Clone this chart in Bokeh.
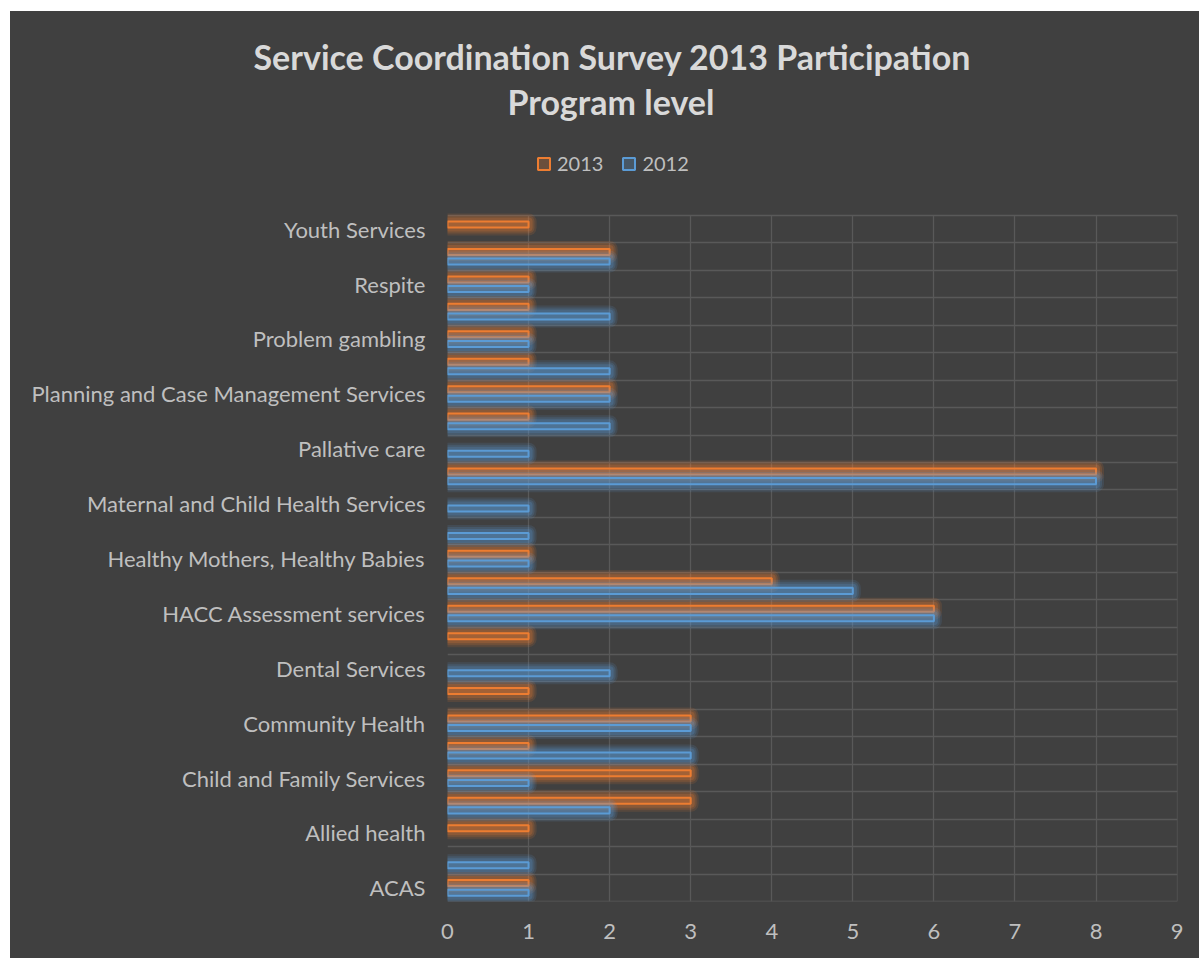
from bokeh.plotting import figure
from bokeh.models import (Range1d, FixedTicker, Title, Legend, LegendItem, Grid,
                          ColumnDataSource, CDSView, BooleanFilter)
from bokeh.transform import dodge
from bokeh.embed import file_html
from bokeh.resources import INLINE

# Categories from bottom to top (only every other one is labelled on the axis)
categories = [
    "ACAS", "Aged Care", "Allied health", "Carer Support", "Child and Family Services",
    "Community Care", "Community Health", "Counselling", "Dental Services",
    "Disability Services", "HACC Assessment services", "HACC Services",
    "Healthy Mothers, Healthy Babies", "Housing", "Maternal and Child Health Services",
    "Mental Health", "Pallative care", "Pharmacy", "Planning and Case Management Services",
    "Primary Care", "Problem gambling", "Public Health", "Respite", "Settlement Services",
    "Youth Services",
]
shown_labels = [
    "ACAS", "Allied health", "Child and Family Services", "Community Health",
    "Dental Services", "HACC Assessment services", "Healthy Mothers, Healthy Babies",
    "Maternal and Child Health Services", "Pallative care",
    "Planning and Case Management Services", "Problem gambling", "Respite", "Youth Services",
]
values_2013 = [1, 0, 1, 3, 3, 1, 3, 1, 0, 1, 6, 4, 1, 0, 0, 8, 0, 1, 2, 1, 1, 1, 1, 2, 1]
values_2012 = [1, 1, 0, 2, 1, 3, 3, 0, 2, 0, 6, 5, 1, 1, 1, 8, 1, 2, 2, 2, 1, 2, 1, 2, 0]
x_ticks = [0, 1, 2, 3, 4, 5, 6, 7, 8, 9]
series_names = ["2013", "2012"]
title_lines = ["Service Coordination Survey 2013 Participation", "Program level"]

ORANGE = "#ED7D31"
BLUE = "#5B9BD5"
BG = "#404040"
GRID = "#595959"
TEXT = "#BFBFBF"
TITLE = "#D9D9D9"
FONT = "Lato"

n = len(categories)
idx = list(range(n))
src = ColumnDataSource(dict(idx=idx, cat=categories, v2013=values_2013, v2012=values_2012))

# The frame reaches up to the legend row; the category area itself spans 686 px.
ROW_PX = 686 / n
EXTRA_TOP_PX = 93
y_top = (n - 0.5) + EXTRA_TOP_PX / ROW_PX

p = figure(width=1189, height=947, title=title_lines[0],
           y_range=Range1d(-0.5005, y_top), x_range=Range1d(0, 9.005),
           output_backend="svg", toolbar_location=None,
           min_border_left=437, min_border_right=22, min_border_top=111, min_border_bottom=57)
p.margin = (11, 0, 0, 10)
p.styles = {"background-color": BG}
p.background_fill_color = BG
p.border_fill_color = BG
p.outline_line_color = None

# title (two lines)
p.title.align = "left"
p.title.offset = -194
p.title.standoff = 2
p.title.text_font = FONT
p.title.text_font_size = "34px"
p.title.text_font_style = "bold"
p.title.text_color = TITLE
p.add_layout(Title(text=title_lines[1], align="left", offset=60, standoff=2,
                   text_font=FONT, text_font_size="34px", text_font_style="bold",
                   text_color=TITLE), "above")

# grids
p.ygrid.ticker = FixedTicker(ticks=[i - 0.5 for i in range(n + 1)])
p.ygrid.grid_line_color = GRID
p.ygrid.grid_line_width = 1.3
use_cross = False
if "cross_bounds" in Grid.properties():
    try:
        p.xgrid.cross_bounds = (-0.5, n - 0.5)
        use_cross = True
    except Exception:
        use_cross = False
if use_cross:
    p.xgrid.ticker = FixedTicker(ticks=x_ticks)
    p.xgrid.grid_line_color = GRID
    p.xgrid.grid_line_width = 1.3
else:
    p.xgrid.visible = False
    p.segment(x0=x_ticks, y0=[-0.5] * len(x_ticks), x1=x_ticks, y1=[n - 0.5] * len(x_ticks),
              line_color=GRID, line_width=1.3, level="underlay")

# axes
p.xaxis.ticker = FixedTicker(ticks=x_ticks)
p.yaxis.ticker = FixedTicker(ticks=[i for i, c in enumerate(categories) if c in shown_labels])
p.yaxis.major_label_overrides = {i: c for i, c in enumerate(categories) if c in shown_labels}
for ax in (p.xaxis, p.yaxis):
    ax.axis_line_color = None
    ax.major_tick_line_color = None
    ax.minor_tick_line_color = None
    ax.major_tick_out = 0
    ax.major_tick_in = 0
    ax.minor_tick_out = 0
    ax.minor_tick_in = 0
    ax.major_label_text_color = TEXT
    ax.major_label_text_font = FONT
    ax.major_label_text_font_size = "22px"
p.xaxis.major_label_standoff = 22
p.yaxis.major_label_standoff = 22

# bars with a soft glow
main = {}
for col, name, color, off in [("v2013", "2013", ORANGE, 0.17), ("v2012", "2012", BLUE, -0.18)]:
    view = CDSView(filter=BooleanFilter([v > 0 for v in src.data[col]]))
    ycoord = dodge("idx", off)
    for lw, a in [(16, 0.13), (12, 0.17), (8, 0.22)]:
        p.hbar(y=ycoord, left=0, right=col, height=0.22, source=src, view=view,
               fill_color=None, line_color=color, line_alpha=a, line_width=lw,
               line_join="round")
    main[name] = p.hbar(y=ycoord, left=0, right=col, height=0.22, source=src, view=view,
                        fill_color=color, fill_alpha=0.25, line_color=color, line_width=2)

# legend, in the frame's top strip above the categories
legend = Legend(items=[LegendItem(label=s, renderers=[main[s]]) for s in series_names],
                location=(89, 726), orientation="horizontal",
                glyph_width=15, glyph_height=15, label_standoff=6, spacing=18,
                padding=0, margin=0, background_fill_alpha=0, border_line_color=None,
                label_text_color=TEXT, label_text_font=FONT, label_text_font_size="20px")
p.add_layout(legend)

open("out.html", "w").write(file_html(p, INLINE))
